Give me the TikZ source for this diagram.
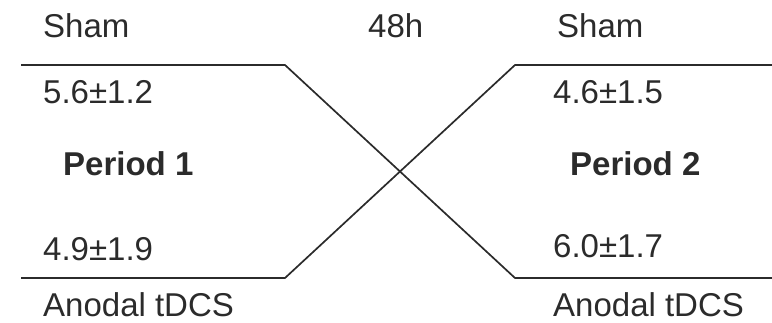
\documentclass[tikz,border=0pt]{standalone}
\usepackage{fontspec}
\setmainfont{Liberation Sans}
\usepackage{xcolor}
\usetikzlibrary{positioning}
\definecolor{inkgray}{HTML}{2B2B2B}

\begin{document}
\begin{tikzpicture}[
  x=1pt, y=-1pt,
  lbl/.style={anchor=base west, inner sep=0pt, text depth=0pt, font=\fontsize{33}{38}\selectfont, text=inkgray},
  period/.style={lbl, font=\fontsize{33}{38}\selectfont\bfseries},
  arm/.style={line width=1.7pt, draw=inkgray}
]
  \useasboundingbox (0,0) rectangle (772,322);

  % Period 1
  \node[lbl] (shamA) at (43, 37) {Sham};
  \node[lbl] (valA) at (43, 103) {5.6±1.2};
  \node[period] (perA) at (63, 175) {Period 1};
  \node[lbl] (valB) at (43, 260) {4.9±1.9};
  \node[lbl] (anoA) at (43, 316) {Anodal tDCS};

  % Washout
  \node[lbl] (gap) at (368, 37) {48h};

  % Period 2
  \node[lbl] (shamB) at (557, 37) {Sham};
  \node[lbl] (valC) at (553, 103) {4.6±1.5};
  \node[period] (perB) at (570, 175) {Period 2};
  \node[lbl] (valD) at (553, 257) {6.0±1.7};
  \node[lbl] (anoB) at (553, 316) {Anodal tDCS};

  % Crossover arms
  \coordinate (topL) at (21, 65);
  \coordinate (topM) at (285, 65);
  \coordinate (botL) at (21, 278);
  \coordinate (botM) at (285, 278);
  \coordinate (topN) at (515, 65);
  \coordinate (topR) at (772, 65);
  \coordinate (botN) at (515, 278);
  \coordinate (botR) at (772, 278);

  \draw[arm] (topL) -- (topM) -- (botN) -- (botR);
  \draw[arm] (botL) -- (botM) -- (topN) -- (topR);
\end{tikzpicture}
\end{document}
